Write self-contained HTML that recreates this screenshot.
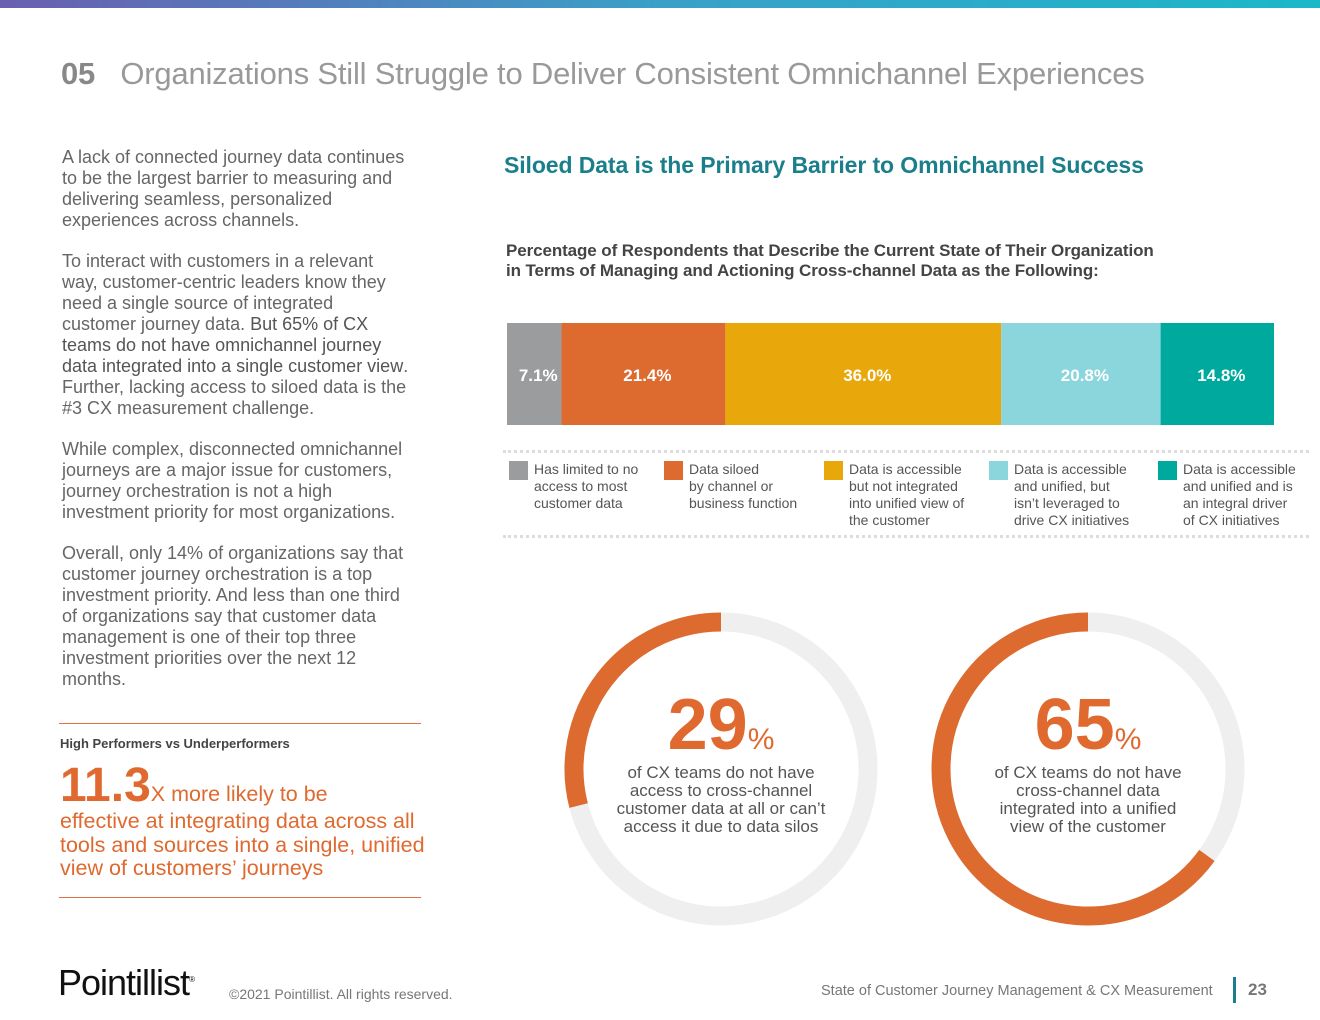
<!DOCTYPE html>
<html><head><meta charset="utf-8"><style>
body{margin:0;width:1320px;height:1020px;position:relative;background:#fff;font-family:"Liberation Sans",sans-serif;overflow:hidden}
.a{position:absolute}
.bodytxt{color:#666;font-size:18px;line-height:21px;font-weight:300}
.leg{font-size:14px;color:#555;line-height:17px}
.sw{position:absolute;width:19px;height:19px}
</style></head><body>
<div class="a" style="left:0;top:0;width:1320px;height:8px;background:linear-gradient(90deg,#6a5fb0,#3aa0c8,#1bb8c8)"></div>
<div class="a" style="left:61px;top:56px;font-size:31px;color:#999;white-space:nowrap;letter-spacing:-0.2px"><b style="color:#888">05</b>&nbsp;&nbsp; Organizations Still Struggle to Deliver Consistent Omnichannel Experiences</div>
<div class="a bodytxt" style="left:62px;top:147px;width:348px">
<p style="margin:0 0 20px">A lack of connected journey data continues to be the largest barrier to measuring and delivering seamless, personalized experiences across channels.</p>
<p style="margin:0 0 20px">To interact with customers in a relevant way, customer-centric leaders know they need a single source of integrated customer journey data. <b style="color:#555">But 65% of CX teams do not have omnichannel journey data integrated into a single customer view</b>. Further, lacking access to siloed data is the #3 CX measurement challenge.</p>
<p style="margin:0 0 20px">While complex, disconnected omnichannel journeys are a major issue for customers, journey orchestration is not a high investment priority for most organizations.</p>
<p style="margin:0">Overall, only 14% of organizations say that customer journey orchestration is a top investment priority. And less than one third of organizations say that customer data management is one of their top three investment priorities over the next 12 months.</p></div>
<div class="a" style="left:59px;top:723px;width:362px;height:1px;background:#e07040"></div>
<div class="a" style="left:60px;top:736px;font-size:13px;font-weight:bold;color:#444">High Performers vs Underperformers</div>
<div class="a" style="left:60px;top:762px;width:370px;color:#e0692f;font-size:21.5px;line-height:23.5px;white-space:nowrap"><b style="font-size:48px;line-height:48px">11.3</b>X more likely to be<br>effective at integrating data across all<br>tools and sources into a single, unified<br>view of customers’ journeys</div>
<div class="a" style="left:59px;top:897px;width:362px;height:1px;background:#e07040"></div>
<div class="a" style="left:504px;top:152px;font-size:23px;font-weight:bold;color:#1a7f8a;letter-spacing:-0.1px">Siloed Data is the Primary Barrier to Omnichannel Success</div>
<div class="a" style="left:506px;top:241px;font-size:17px;font-weight:bold;color:#444;line-height:20px;letter-spacing:-0.1px">Percentage of Respondents that Describe the Current State of Their Organization<br>in Terms of Managing and Actioning Cross-channel Data as the Following:</div>
<svg class="a" id="bar" style="left:0;top:0" width="1320" height="440"></svg>
<div class="a" style="left:503px;top:450px;width:806px;border-top:3px dotted #ddd"></div>
<div class="a" style="left:503px;top:535px;width:806px;border-top:3px dotted #ddd"></div>
<div id="legend"></div>
<svg class="a" id="donuts" style="left:0;top:0" width="1320" height="1020"></svg>
<div class="a" style="left:606px;top:686px;width:230px;text-align:center;color:#555;font-size:17px;line-height:18px"><span style="color:#e0692f;font-size:72px;font-weight:bold;line-height:78px">29</span><span style="color:#e0692f;font-size:30px">%</span><br>of CX teams do not have access to cross-channel customer data at all or can’t access it due to data silos</div>
<div class="a" style="left:988px;top:686px;width:200px;text-align:center;color:#555;font-size:17px;line-height:18px"><span style="color:#e0692f;font-size:72px;font-weight:bold;line-height:78px">65</span><span style="color:#e0692f;font-size:30px">%</span><br>of CX teams do not have cross-channel data integrated into a unified view of the customer</div>
<div class="a" style="left:58px;top:962px;font-size:36px;color:#111;letter-spacing:-1px">Pointillist<sup style="font-size:8px">®</sup></div>
<div class="a" style="left:229px;top:986px;font-size:14px;color:#777">©2021 Pointillist. All rights reserved.</div>
<div class="a" style="left:821px;top:983px;font-size:14.5px;color:#777">State of Customer Journey Management &amp; CX Measurement</div>
<div class="a" style="left:1233px;top:977px;width:3px;height:26px;background:#1a7f8a"></div>
<div class="a" style="left:1248px;top:980px;font-size:17px;font-weight:bold;color:#777">23</div>
<script>
const categories=["Has limited to no access to most customer data","Data siloed by channel or business function","Data is accessible but not integrated into unified view of the customer","Data is accessible and unified, but isn’t leveraged to drive CX initiatives","Data is accessible and unified and is an integral driver of CX initiatives"];
const values=[7.1,21.4,36.0,20.8,14.8];
const colors=["#9a9c9e","#dd6a2f","#e8a70a","#8ad6dc","#00a99d"];
const legendLines=[["Has limited to no","access to most","customer data"],["Data siloed","by channel or","business function"],["Data is accessible","but not integrated","into unified view of","the customer"],["Data is accessible","and unified, but","isn’t leveraged to","drive CX initiatives"],["Data is accessible","and unified and is","an integral driver","of CX initiatives"]];
const legendX=[509,664,824,989,1158];
const donutValues=[29,65];
const NS="http://www.w3.org/2000/svg";
const x0=507,x1=1274,total=values.reduce((a,b)=>a+b,0);
const sx=v=>v/total*(x1-x0);
const svg=document.getElementById('bar');
let cx=x0;
values.forEach((v,i)=>{
 const r=document.createElementNS(NS,'rect');
 
 
 r.setAttribute('x',cx);r.setAttribute('y',323);r.setAttribute('width',sx(v));r.setAttribute('height',102);r.setAttribute('fill',colors[i]);
 svg.appendChild(r);
 const t=document.createElementNS(NS,'text');
 
 
 t.setAttribute('x',cx+sx(v)/2+4);t.setAttribute('y',381);t.setAttribute('text-anchor','middle');t.setAttribute('fill','#fff');t.setAttribute('font-size','17');t.setAttribute('font-weight','bold');
 t.textContent=v.toFixed(1)+'%';svg.appendChild(t);
 cx+=sx(v);
});
const leg=document.getElementById('legend');
legendLines.forEach((ls,i)=>{
 const d=document.createElement('div');
 
 
 d.className='a';d.style.left=legendX[i]+'px';d.style.top='461px';
 d.innerHTML='<div class="sw" style="left:0;top:0;background:'+colors[i]+'"></div><div class="leg" style="position:absolute;left:25px;top:0;white-space:nowrap">'+ls.join('<br>')+'</div>';
 leg.appendChild(d);
});
const ds=document.getElementById('donuts');
const centers=[[721,769],[1088,769]],R=147,W=19;
donutValues.forEach((p,i)=>{
 const [x,y]=centers[i];
 const c=document.createElementNS(NS,'circle');
 
 
 c.setAttribute('cx',x);c.setAttribute('cy',y);c.setAttribute('r',R);c.setAttribute('fill','none');c.setAttribute('stroke','#efefef');c.setAttribute('stroke-width',W);
 ds.appendChild(c);
 const a=p/100*2*Math.PI;
 const ex=x-R*Math.sin(a),ey=y-R*Math.cos(a);
 const path=document.createElementNS(NS,'path');
 
 
 path.setAttribute('d','M'+x+' '+(y-R)+' A'+R+' '+R+' 0 '+(p>50?1:0)+' 0 '+ex+' '+ey);
 path.setAttribute('fill','none');path.setAttribute('stroke','#dd6a2f');path.setAttribute('stroke-width',W);
 ds.appendChild(path);
});
</script>
</body></html>
